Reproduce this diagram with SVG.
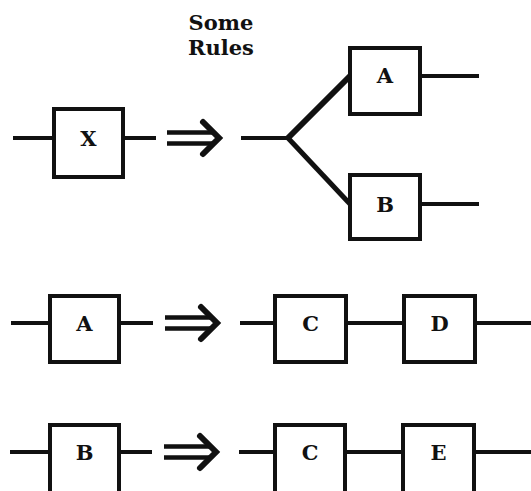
<svg xmlns="http://www.w3.org/2000/svg" width="531" height="491" viewBox="0 0 531 491">
  <defs>
    <style>
      .box { fill: #fff; stroke: #111; stroke-width: 4; }
      .wire { fill: none; stroke: #111; stroke-width: 4; }
      .fork { fill: none; stroke: #111; stroke-width: 6; stroke-linejoin: miter; }
      .rw { fill: none; stroke: #111; stroke-width: 4.5; }
      .rwhead { fill: none; stroke: #111; stroke-width: 6; stroke-linecap: round; stroke-linejoin: miter; }
      .lbl { font-family: "DejaVu Serif", "Liberation Serif", serif; font-weight: bold; font-size: 21px; fill: #111; text-anchor: middle; }
      .title { font-family: "DejaVu Serif", "Liberation Serif", serif; font-weight: bold; font-size: 21px; fill: #111; text-anchor: middle; }
    </style>
    <!-- double-shafted rewrite arrow, drawn at origin, shaft centre on y=0 -->
    <g id="rewrite">
      <path class="rw" d="M0,-5.5 H46 M0,5.5 H46"/>
      <path class="rwhead" d="M36,-16 L52,0 L36,16"/>
    </g>
  </defs>
  <rect width="531" height="491" fill="#fff"/>

  <g id="title">
    <text class="title" x="221" y="30">Some</text>
    <text class="title" x="221" y="55">Rules</text>
  </g>

  <!-- connectors -->
  <g id="connectors">
    <!-- rule 1: X => fork to A, B -->
    <path class="wire" d="M13,138 H54 M123,138 H156"/>
    <path class="wire" d="M241,138 H288"/>
    <path class="fork" d="M350,76 L288,138"/>
    <path class="wire" d="M288,138 L350,204" style="stroke-width:5"/>
    <path class="wire" d="M420,76 H479 M420,204 H479"/>
    <!-- rule 2: A => C D -->
    <path class="wire" d="M11,323 H50 M119,323 H153"/>
    <path class="wire" d="M240,323 H275 M346,323 H404 M475,323 H531"/>
    <!-- rule 3: B => C E -->
    <path class="wire" d="M10,452 H50 M119,452 H152"/>
    <path class="wire" d="M239,452 H275 M345,452 H403 M474,452 H531"/>
    <use href="#rewrite" x="167" y="138"/>
    <use href="#rewrite" x="165" y="323"/>
    <use href="#rewrite" x="164" y="452"/>
  </g>

  <!-- rule 1 -->
  <g id="node-x">
    <rect class="box" x="54" y="109" width="69" height="68"/>
    <text class="lbl" x="88.5" y="146">X</text>
  </g>
  <g id="node-a1">
    <rect class="box" x="350" y="48" width="70" height="66"/>
    <text class="lbl" x="385" y="83">A</text>
  </g>
  <g id="node-b1">
    <rect class="box" x="350" y="175" width="70" height="64"/>
    <text class="lbl" x="385" y="212">B</text>
  </g>

  <!-- rule 2 -->
  <g id="node-a2">
    <rect class="box" x="50" y="296" width="69" height="66"/>
    <text class="lbl" x="84.5" y="331">A</text>
  </g>
  <g id="node-c2">
    <rect class="box" x="275" y="296" width="71" height="66"/>
    <text class="lbl" x="310.5" y="331">C</text>
  </g>
  <g id="node-d2">
    <rect class="box" x="404" y="296" width="71" height="66"/>
    <text class="lbl" x="439.5" y="331">D</text>
  </g>

  <!-- rule 3 -->
  <g id="node-b3">
    <rect class="box" x="50" y="425" width="69" height="70"/>
    <text class="lbl" x="84.5" y="460">B</text>
  </g>
  <g id="node-c3">
    <rect class="box" x="275" y="425" width="70" height="70"/>
    <text class="lbl" x="310" y="460">C</text>
  </g>
  <g id="node-e3">
    <rect class="box" x="403" y="425" width="71" height="70"/>
    <text class="lbl" x="438.5" y="460">E</text>
  </g>
</svg>
